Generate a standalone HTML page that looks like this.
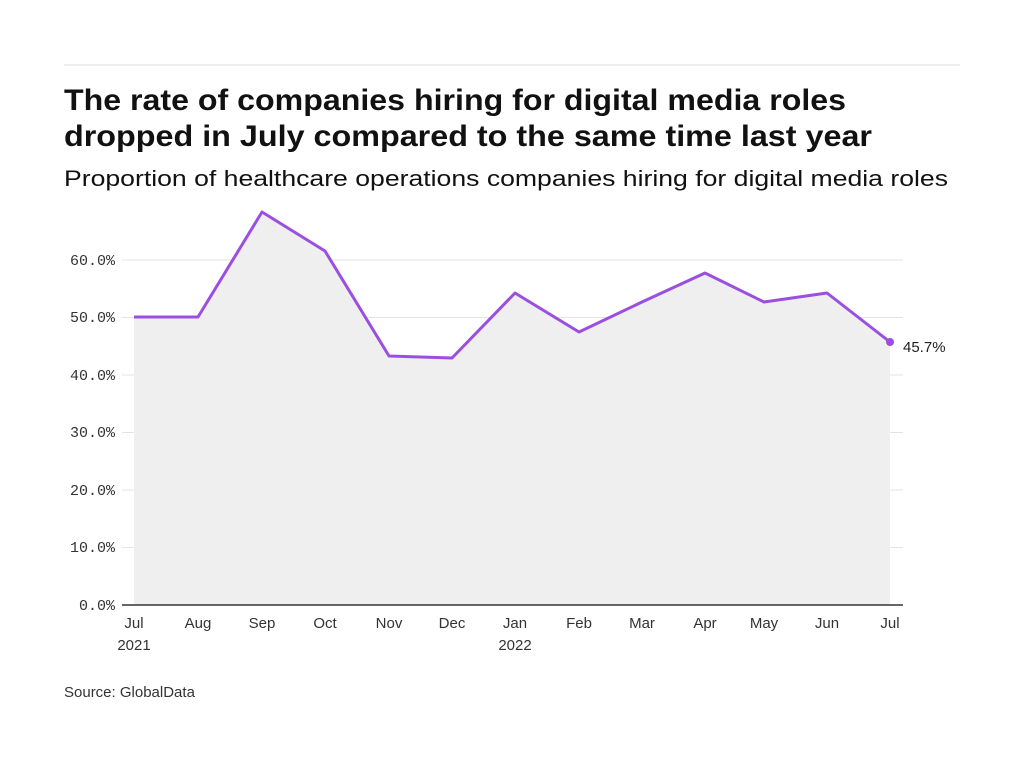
<!DOCTYPE html>
<html><head><style>
body{margin:0;background:#fff;}
.s{font-family:"Liberation Sans",sans-serif;}
.m{font-family:"Liberation Mono",monospace;}
</style></head><body>
<svg width="1024" height="768" viewBox="0 0 1024 768" xmlns="http://www.w3.org/2000/svg">
<rect width="1024" height="768" fill="#fff"/>
<line x1="64" y1="65" x2="960" y2="65" stroke="#ddd" stroke-width="1"/>
<text class="s" x="64" y="110" font-size="30" font-weight="bold" fill="#111" textLength="782" lengthAdjust="spacingAndGlyphs">The rate of companies hiring for digital media roles</text>
<text class="s" x="64" y="146" font-size="30" font-weight="bold" fill="#111" textLength="808" lengthAdjust="spacingAndGlyphs">dropped in July compared to the same time last year</text>
<text class="s" x="64" y="186" font-size="22" fill="#111" textLength="884" lengthAdjust="spacingAndGlyphs">Proportion of healthcare operations companies hiring for digital media roles</text>
<g stroke="#e3e3e3" stroke-width="1">
<line x1="122" y1="260" x2="903" y2="260"/>
<line x1="122" y1="317.5" x2="903" y2="317.5"/>
<line x1="122" y1="375" x2="903" y2="375"/>
<line x1="122" y1="432.5" x2="903" y2="432.5"/>
<line x1="122" y1="490" x2="903" y2="490"/>
<line x1="122" y1="547.5" x2="903" y2="547.5"/>
</g>
<polygon points="134,605 134,317 198,317 262,212 325,251 389,356 452,358 515,293 579,332 642,302 705,273 764,302 827,293 890,342 890,605" fill="#efefef"/>
<line x1="122" y1="605" x2="903" y2="605" stroke="#333" stroke-width="1.5"/>
<polyline points="134,317 198,317 262,212 325,251 389,356 452,358 515,293 579,332 642,302 705,273 764,302 827,293 890,342" fill="none" stroke="#9b4fe0" stroke-width="3" stroke-linejoin="round"/>
<circle cx="890" cy="342" r="4" fill="#9b4fe0"/>
<text class="s" x="903" y="352" font-size="15" fill="#222">45.7%</text>
<g class="m" font-size="15" fill="#333" text-anchor="end">
<text x="115" y="265">60.0%</text>
<text x="115" y="322">50.0%</text>
<text x="115" y="380">40.0%</text>
<text x="115" y="437">30.0%</text>
<text x="115" y="495">20.0%</text>
<text x="115" y="552">10.0%</text>
<text x="115" y="610">0.0%</text>
</g>
<g class="s" font-size="15" fill="#333" text-anchor="middle">
<text x="134" y="628">Jul</text><text x="134" y="650">2021</text>
<text x="198" y="628">Aug</text>
<text x="262" y="628">Sep</text>
<text x="325" y="628">Oct</text>
<text x="389" y="628">Nov</text>
<text x="452" y="628">Dec</text>
<text x="515" y="628">Jan</text><text x="515" y="650">2022</text>
<text x="579" y="628">Feb</text>
<text x="642" y="628">Mar</text>
<text x="705" y="628">Apr</text>
<text x="764" y="628">May</text>
<text x="827" y="628">Jun</text>
<text x="890" y="628">Jul</text>
</g>
<text class="s" x="64" y="697" font-size="15" fill="#333">Source: GlobalData</text>
</svg>
</body></html>
